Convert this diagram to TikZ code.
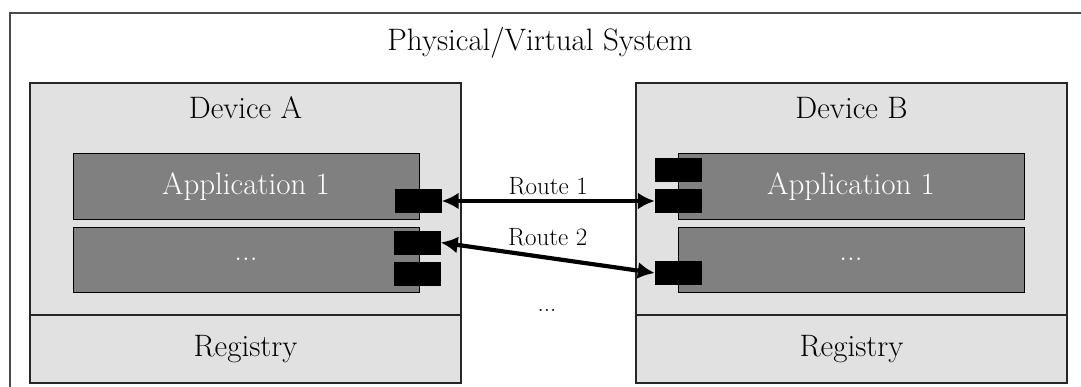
\documentclass[tikz,border=0pt]{standalone}
\usepackage{fontspec}
\usetikzlibrary{arrows.meta,positioning}
\definecolor{devgray}{HTML}{E1E1E1}
\definecolor{appgray}{HTML}{808080}
\definecolor{framegray}{HTML}{4A4A4A}

\begin{document}
\begin{tikzpicture}[x=1pt,y=1pt,
  big/.style={font=\fontsize{31}{37}\selectfont},
  small/.style={font=\fontsize{25}{30}\selectfont},
  devbox/.style={draw=black!85,line width=1.3pt,fill=devgray,inner sep=0pt,minimum width=431pt},
  appbox/.style={draw=black,line width=1pt,fill=appgray,inner sep=0pt,minimum width=346pt,minimum height=65pt,text=white,big},
  port/.style={fill=black,inner sep=0pt,minimum width=47pt,minimum height=24pt},
  route/.style={line width=4.2pt,{Latex[length=17pt,width=17pt]}-{Latex[length=17pt,width=17pt]}}]
\useasboundingbox (0,0) rectangle (1081,386);
\clip (0,0) rectangle (1081,386);
\fill[white] (0,0) rectangle (1081,386);
\draw[framegray,line width=1.5pt] (10,-20) rectangle (1110,373);
\node[big] (sys) at (540,343) {Physical/Virtual System};
% device A
\node[devbox,minimum height=300pt] (devA) at (245.5,153) {};
\node[devbox,minimum height=68pt,big] (regA) at (245.5,37) {Registry};
\node[big] (labA) at (245.5,278) {Device A};
\node[appbox] (appA1) at (246,199.5) {Application 1};
\node[appbox] (appAn) at (246,126.5) {...};
\node[port] (pA1) at (418,185) {};
\node[port] (pA2) at (417,143.5) {};
\node[port] (pA3) at (417.5,112) {};
% device B
\node[devbox,minimum height=300pt] (devB) at (851.5,153) {};
\node[devbox,minimum height=68pt,big] (regB) at (851.5,37) {Registry};
\node[big] (labB) at (851.5,278) {Device B};
\node[appbox] (appB1) at (851,199.5) {Application 1};
\node[appbox] (appBn) at (851,126.5) {...};
\node[port] (pB1) at (678.5,216) {};
\node[port] (pB2) at (678.5,185) {};
\node[port] (pB3) at (678.5,113) {};
% routes
\draw[route] (pA1.east) -- (pB2.west) node[midway,above=1pt,small] (r1) {Route 1};
\draw[route] (pA2.east) -- (pB3.west) node[midway,above=6pt,small] (r2) {Route 2};
\node[small] (more) at (547,76) {...};
\end{tikzpicture}
\end{document}
